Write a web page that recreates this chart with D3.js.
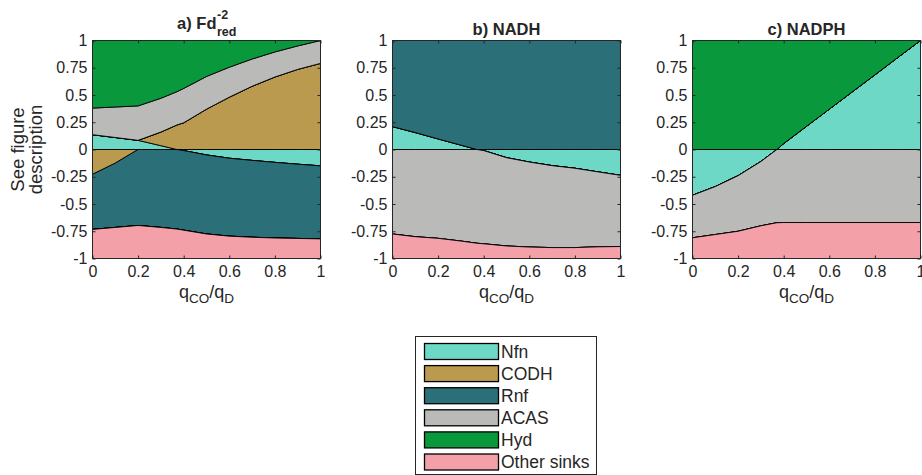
<!DOCTYPE html>
<html><head><meta charset="utf-8">
<script src="https://cdn.jsdelivr.net/npm/d3@7"></script>
<style>body{margin:0;background:#fff} svg text{font-family:"Liberation Sans",Arial,Helvetica,sans-serif;fill:#262626}</style>
</head><body><svg id="chart" width="922" height="475"></svg>
<script>
// ---- data (fractions of electron flux; + = production, - = consumption) ----
const qFrac = [0, 0.1, 0.2, 0.3, 0.37, 0.4, 0.5, 0.6, 0.7, 0.8, 0.9, 1.0];
const seriesNames = ["Nfn", "CODH", "Rnf", "ACAS", "Hyd", "Other sinks"];
const xTicks = [0, 0.2, 0.4, 0.6, 0.8, 1];
const yTicks = [-1, -0.75, -0.5, -0.25, 0, 0.25, 0.5, 0.75, 1];
const yTickLabels = ["-1", "-0.75", "-0.5", "-0.25", "0", "0.25", "0.5", "0.75", "1"];
const xTickLabels = ["0", "0.2", "0.4", "0.6", "0.8", "1"];

// panel a) Fd_red^-2
const fdNfn   = [0.136, 0.11, 0.084, 0.035, 0, -0.01, -0.05, -0.08, -0.10, -0.118, -0.135, -0.15];
const fdCODH  = [-0.228, -0.125, 0, 0.125, 0.225, 0.245, 0.37, 0.48, 0.58, 0.665, 0.735, 0.79];
const fdRnf   = [-0.505, -0.59, -0.697, -0.715, -0.73, -0.73, -0.725, -0.715, -0.705, -0.694, -0.681, -0.67];
const fdACAS  = [0.244, 0.28, 0.316, 0.31, 0.305, 0.315, 0.30, 0.275, 0.25, 0.23, 0.215, 0.21];
const fdHyd   = [0.62, 0.61, 0.60, 0.53, 0.47, 0.44, 0.33, 0.245, 0.17, 0.105, 0.05, 0];
const fdOther = [-0.267, -0.285, -0.303, -0.285, -0.27, -0.26, -0.225, -0.205, -0.195, -0.188, -0.184, -0.18];

// panel b) NADH
const nadhNfn   = [0.21, 0.155, 0.097, 0.04, 0, -0.01, -0.075, -0.115, -0.148, -0.172, -0.205, -0.237];
const nadhCODH  = [0, 0, 0, 0, 0, 0, 0, 0, 0, 0, 0, 0];
const nadhRnf   = [0.79, 0.845, 0.903, 0.96, 1, 1, 1, 1, 1, 1, 1, 1];
const nadhACAS  = [-0.775, -0.80, -0.815, -0.84, -0.86, -0.855, -0.81, -0.78, -0.752, -0.728, -0.688, -0.653];
const nadhHyd   = [0, 0, 0, 0, 0, 0, 0, 0, 0, 0, 0, 0];
const nadhOther = [-0.225, -0.20, -0.185, -0.16, -0.14, -0.135, -0.115, -0.105, -0.10, -0.10, -0.107, -0.11];

// panel c) NADPH
const nadphNfn   = [-0.42, -0.34, -0.24, -0.11, 0, 0.055, 0.213, 0.37, 0.528, 0.685, 0.843, 1.0];
const nadphCODH  = [0, 0, 0, 0, 0, 0, 0, 0, 0, 0, 0, 0];
const nadphRnf   = [0, 0, 0, 0, 0, 0, 0, 0, 0, 0, 0, 0];
const nadphACAS  = [-0.39, -0.44, -0.51, -0.59, -0.672, -0.67, -0.67, -0.67, -0.67, -0.67, -0.67, -0.67];
const nadphHyd   = [1, 1, 1, 1, 1, 0.945, 0.787, 0.63, 0.472, 0.315, 0.157, 0];
const nadphOther = [-0.19, -0.22, -0.25, -0.30, -0.328, -0.33, -0.33, -0.33, -0.33, -0.33, -0.33, -0.33];

const seriesColors = ["#6ed8c6", "#b99a4f", "#2b6f79", "#babbb8", "#0a983c", "#f4a0a9"];

// ---- layout ----
const svg = d3.select("#chart");
const plotW = 228, plotTop = 40.5, plotBottom = 258.5;
const ink = "#262626";

const panels = [
  {title: "a) Fd", sup: "-2", sub: "red", left: 92.5, base: 28.5, data: [fdNfn, fdCODH, fdRnf, fdACAS, fdHyd, fdOther]},
  {title: "b) NADH", left: 392.5, base: 34.5, data: [nadhNfn, nadhCODH, nadhRnf, nadhACAS, nadhHyd, nadhOther]},
  {title: "c) NADPH", left: 692.5, base: 34.5, data: [nadphNfn, nadphCODH, nadphRnf, nadphACAS, nadphHyd, nadphOther]}
];

panels.forEach((p, pi) => {
  const x = d3.scaleLinear().domain([0, 1]).range([p.left, p.left + plotW]);
  const y = d3.scaleLinear().domain([-1, 1]).range([plotBottom, plotTop]);
  const rows = qFrac.map((q, i) => {
    const r = {q};
    seriesNames.forEach((s, k) => { r[s] = p.data[k][i]; });
    return r;
  });
  const pos = d3.stack().keys(seriesNames).value((d, k) => Math.max(d[k], 0))(rows);
  const neg = d3.stack().keys(seriesNames).value((d, k) => Math.max(-d[k], 0))(rows);
  const areaPos = d3.area().x(d => x(d.data.q)).y0(d => y(d[0])).y1(d => y(d[1]));
  const areaNeg = d3.area().x(d => x(d.data.q)).y0(d => y(-d[0])).y1(d => y(-d[1]));

  const g = svg.append("g");
  seriesNames.forEach((s, k) => {
    g.append("path").attr("d", areaPos(pos[k])).attr("fill", seriesColors[k])
      .attr("stroke", "#000").attr("stroke-width", 0.9).attr("stroke-linejoin", "round");
    g.append("path").attr("d", areaNeg(neg[k])).attr("fill", seriesColors[k])
      .attr("stroke", "#000").attr("stroke-width", 0.9).attr("stroke-linejoin", "round");
  });

  // axes (ticks inward, box)
  const axB = d3.axisBottom(x).tickValues(xTicks).tickFormat((d, i) => xTickLabels[i]).tickSizeInner(-3).tickSizeOuter(0).tickPadding(7);
  const axT = d3.axisTop(x).tickValues(xTicks).tickFormat("").tickSizeInner(-3).tickSizeOuter(0);
  const axL = d3.axisLeft(y).tickValues(yTicks).tickFormat((d, i) => yTickLabels[i]).tickSizeInner(-3).tickSizeOuter(0).tickPadding(5);
  const axR = d3.axisRight(y).tickValues(yTicks).tickFormat("").tickSizeInner(-3).tickSizeOuter(0);
  const gb = svg.append("g").attr("transform", `translate(0,${plotBottom})`).call(axB);
  const gt = svg.append("g").attr("transform", `translate(0,${plotTop})`).call(axT);
  const gl = svg.append("g").attr("transform", `translate(${p.left},0)`).call(axL);
  const gr = svg.append("g").attr("transform", `translate(${p.left + plotW},0)`).call(axR);
  [gb, gt, gl, gr].forEach(a => {
    a.select(".domain").remove();
    a.selectAll(".tick line").attr("stroke", ink).attr("stroke-width", 1);
    a.selectAll(".tick text").attr("fill", ink).style("font-size", "16px")
      .style("font-family", '"Liberation Sans",Arial,sans-serif');
  });
  svg.append("rect").attr("x", p.left).attr("y", plotTop).attr("width", plotW).attr("height", plotBottom - plotTop)
    .attr("fill", "none").attr("stroke", ink).attr("stroke-width", 1);

  // title
  const cx = p.left + plotW / 2;
  const t = svg.append("text").attr("y", p.base).style("font-size", "16.5px").style("font-weight", "bold").text(p.title);
  const tw = t.node().getComputedTextLength();
  if (p.sup) {
    const sp = svg.append("text").attr("y", p.base - 9.5).style("font-size", "12.5px").style("font-weight", "bold").text(p.sup);
    const sb = svg.append("text").attr("y", p.base + 7).style("font-size", "12.5px").style("font-weight", "bold").text(p.sub);
    const ew = Math.max(sp.node().getComputedTextLength(), sb.node().getComputedTextLength());
    const x0 = cx - (tw + ew) / 2;
    t.attr("x", x0);
    sp.attr("x", x0 + tw + 0.5);
    sb.attr("x", x0 + tw + 0.5);
  } else {
    t.attr("x", cx).attr("text-anchor", "middle");
  }

  // x label q_CO/q_D
  const xl = svg.append("text").attr("x", cx).attr("y", 298).attr("text-anchor", "middle").style("font-size", "18px");
  xl.append("tspan").text("q");
  xl.append("tspan").attr("dy", 5).style("font-size", "13.5px").text("CO");
  xl.append("tspan").attr("dy", -5).text("/q");
  xl.append("tspan").attr("dy", 5).style("font-size", "13.5px").text("D");

  if (pi === 0) {
    svg.append("text").attr("transform", `translate(23.5,${(plotTop + plotBottom) / 2}) rotate(-90)`)
      .attr("text-anchor", "middle").style("font-size", "18.5px").text("See figure");
    svg.append("text").attr("transform", `translate(41.5,${(plotTop + plotBottom) / 2}) rotate(-90)`)
      .attr("text-anchor", "middle").style("font-size", "18.5px").text("description");
  }
});

// ---- legend ----
const lg = svg.append("g");
lg.append("rect").attr("x", 415.5).attr("y", 336.5).attr("width", 181).attr("height", 138)
  .attr("fill", "#fff").attr("stroke", ink).attr("stroke-width", 1);
seriesNames.forEach((s, k) => {
  const yy = 343.5 + k * 22.1;
  lg.append("rect").attr("x", 424.5).attr("y", yy).attr("width", 74).attr("height", 16)
    .attr("fill", seriesColors[k]).attr("stroke", "#000").attr("stroke-width", 1.3);
  lg.append("text").attr("x", 501).attr("y", yy + 8).attr("dy", "0.35em").style("font-size", "17.5px").text(s);
});
</script></body></html>
